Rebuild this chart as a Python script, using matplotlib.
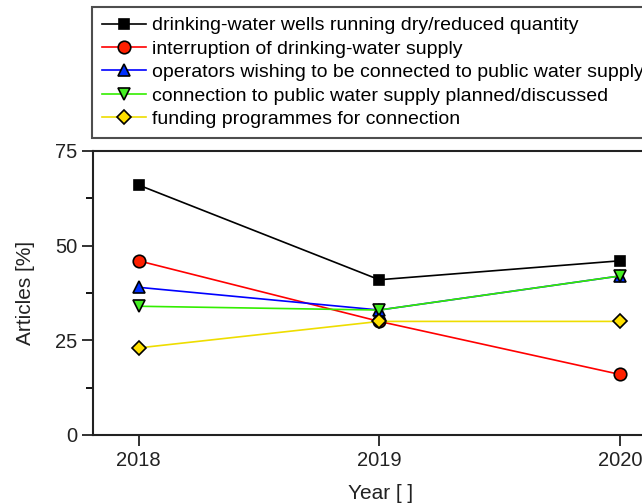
import matplotlib
matplotlib.use("Agg")
import matplotlib.pyplot as plt
from matplotlib.ticker import MultipleLocator

plt.rcParams['font.family'] = ['Liberation Sans', 'DejaVu Sans']

years = [2018, 2019, 2020]
labels = [
    "drinking-water wells running dry/reduced quantity",
    "interruption of drinking-water supply",
    "operators wishing to be connected to public water supply",
    "connection to public water supply planned/discussed",
    "funding programmes for connection",
]
wells_dry = [66, 41, 46]
interruption = [46, 30, 16]
operators_wishing = [39, 33, 42]
connection_planned = [34, 33, 42]
funding = [23, 30, 30]

series = [wells_dry, interruption, operators_wishing, connection_planned, funding]
line_colors = ["black", "#ff0000", "#0000ff", "#33ee00", "#eedd00"]
face_colors = ["black", "#ff2000", "#0030ff", "#44ee22", "#ffe000"]
markers = ["s", "o", "^", "v", "D"]
msizes = [7.5, 9, 9, 9, 7.5]

fig = plt.figure(figsize=(6.42, 5.04), dpi=100)
ax = fig.add_axes([93/642, 69/504, (668-93)/642, (435-151)/504])

handles = []
for vals, lc, fc, m, ms, lab in zip(series, line_colors, face_colors, markers, msizes, labels):
    h, = ax.plot(years, vals, color=lc, lw=1.2, marker=m, markersize=ms,
                 markerfacecolor=fc, markeredgecolor="black", markeredgewidth=1.2,
                 label=lab)
    handles.append(h)

ax.set_xlim(2017.81, 2020.2)
ax.set_ylim(0, 75)
ax.set_xticks(years)
ax.set_xticklabels([str(y) for y in years])
ax.set_yticks([0, 25, 50, 75])
ax.yaxis.set_minor_locator(MultipleLocator(12.5))
ax.tick_params(axis='both', which='major', direction='out', length=8, width=1.3,
               labelsize=14.5, colors='#222222')
ax.tick_params(axis='y', which='minor', direction='out', length=5, width=1.3)
for s in ax.spines.values():
    s.set_linewidth(1.5)
    s.set_color('#222222')

ax.set_xlabel("Year [ ]", fontsize=15, labelpad=10, color='#222222')
ax.set_ylabel("Articles [%]", fontsize=15, labelpad=14, color='#222222')

leg = fig.legend(handles=handles, loc="upper left", bbox_to_anchor=(92/642, 1-7/504),
                 bbox_transform=fig.transFigure, borderaxespad=0, fontsize=14,
                 handlelength=2.27, handletextpad=0.3, labelspacing=0.3,
                 frameon=True, fancybox=False, edgecolor='#222222', borderpad=0.5)
leg.get_frame().set_linewidth(1.5)

fig.savefig("out.png", dpi=100)
